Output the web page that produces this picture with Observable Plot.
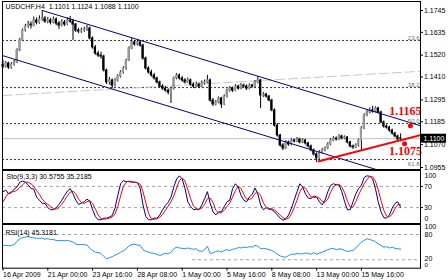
<!DOCTYPE html>
<html><head><meta charset="utf-8">
<script src="https://cdn.jsdelivr.net/npm/d3@7"></script>
<script src="https://cdn.jsdelivr.net/npm/@observablehq/plot@0.6"></script>
<style>
html,body{margin:0;padding:0;background:#fff;}
#chart{position:relative;width:448px;height:280px;overflow:hidden;background:#fff;}
#chart svg{position:absolute;left:0;}
</style></head><body><div id="chart"></div>
<script>
// ---- price data (H4 bars, index 0 = 16 Apr 2009 08:00) ----
const opens = [
1.1470,1.1463,1.1478,1.1458,1.1473,1.1483,1.1544,1.1594,1.1644,1.1664,
1.1674,1.1669,1.1694,1.1684,1.1699,1.1704,1.1689,1.1694,1.1684,1.1699,
1.1679,1.1669,1.1684,1.1674,1.1694,1.1689,1.1674,1.1644,1.1639,1.1644,
1.1649,1.1654,1.1604,1.1559,1.1528,1.1518,1.1513,1.1443,1.1383,1.1393,
1.1367,1.1393,1.1413,1.1433,1.1453,1.1493,1.1554,1.1584,1.1574,1.1584,
1.1569,1.1503,1.1453,1.1433,1.1418,1.1403,1.1383,1.1362,1.1352,1.1342,
1.1332,1.1352,1.1403,1.1418,1.1403,1.1393,1.1383,1.1393,1.1372,1.1362,
1.1372,1.1362,1.1378,1.1383,1.1393,1.1292,1.1272,1.1282,1.1302,1.1272,
1.1312,1.1342,1.1352,1.1342,1.1362,1.1352,1.1367,1.1362,1.1352,1.1367,
1.1362,1.1383,1.1393,1.1317,1.1322,1.1312,1.1292,1.1242,1.1166,1.1116,
1.1066,1.1051,1.1081,1.1071,1.1091,1.1086,1.1096,1.1081,1.1091,1.1076,
1.1061,1.1041,1.1021,1.1001,1.1031,1.1041,1.1051,1.1071,1.1091,1.1101,
1.1096,1.1111,1.1101,1.1106,1.1081,1.1061,1.1056,1.1066,1.1091,1.1151,
1.1217,1.1232,1.1242,1.1237,1.1252,1.1232,1.1181,1.1161,1.1156,1.1141,
1.1126,1.1111,1.1101];
const highs = [
1.1492,1.1488,1.1485,1.1482,1.1495,1.1552,1.1605,1.1652,1.1675,1.1690,
1.1688,1.1712,1.1708,1.1718,1.1745,1.1715,1.1710,1.1705,1.1712,1.1708,
1.1690,1.1698,1.1695,1.1708,1.1715,1.1700,1.1680,1.1655,1.1656,1.1660,
1.1669,1.1662,1.1612,1.1568,1.1540,1.1535,1.1520,1.1450,1.1408,1.1400,
1.1402,1.1422,1.1442,1.1462,1.1500,1.1562,1.1604,1.1594,1.1595,1.1592,
1.1575,1.1510,1.1462,1.1445,1.1428,1.1410,1.1390,1.1372,1.1362,1.1350,
1.1360,1.1410,1.1428,1.1425,1.1412,1.1402,1.1405,1.1400,1.1382,1.1385,
1.1380,1.1390,1.1395,1.1418,1.1400,1.1302,1.1292,1.1310,1.1308,1.1320,
1.1350,1.1362,1.1360,1.1372,1.1370,1.1378,1.1375,1.1370,1.1376,1.1374,
1.1392,1.1413,1.1398,1.1332,1.1328,1.1318,1.1298,1.1250,1.1175,1.1122,
1.1075,1.1090,1.1088,1.1100,1.1098,1.1106,1.1102,1.1100,1.1096,1.1082,
1.1068,1.1048,1.1028,1.1040,1.1050,1.1058,1.1080,1.1100,1.1110,1.1108,
1.1120,1.1118,1.1114,1.1110,1.1088,1.1068,1.1074,1.1098,1.1160,1.1225,
1.1245,1.1255,1.1262,1.1260,1.1258,1.1238,1.1190,1.1170,1.1162,1.1148,
1.1132,1.1118,1.1124];
const lows = [
1.1452,1.1455,1.1448,1.1450,1.1465,1.1478,1.1538,1.1588,1.1636,1.1655,
1.1652,1.1662,1.1672,1.1676,1.1690,1.1680,1.1678,1.1672,1.1678,1.1668,
1.1650,1.1662,1.1664,1.1668,1.1680,1.1594,1.1634,1.1628,1.1630,1.1635,
1.1640,1.1596,1.1550,1.1520,1.1508,1.1500,1.1435,1.1372,1.1370,1.1352,
1.1360,1.1385,1.1405,1.1425,1.1445,1.1488,1.1548,1.1565,1.1566,1.1560,
1.1495,1.1445,1.1425,1.1410,1.1395,1.1375,1.1355,1.1343,1.1335,1.1320,
1.1277,1.1345,1.1396,1.1395,1.1384,1.1375,1.1378,1.1364,1.1352,1.1355,
1.1352,1.1356,1.1370,1.1376,1.1284,1.1262,1.1265,1.1275,1.1252,1.1266,
1.1305,1.1334,1.1332,1.1336,1.1344,1.1346,1.1355,1.1342,1.1346,1.1354,
1.1356,1.1376,1.1252,1.1308,1.1304,1.1285,1.1235,1.1158,1.1108,1.1058,
1.1040,1.1045,1.1062,1.1064,1.1078,1.1080,1.1074,1.1075,1.1068,1.1054,
1.1034,1.1012,1.0980,1.0995,1.1024,1.1034,1.1045,1.1064,1.1085,1.1088,
1.1090,1.1094,1.1095,1.1074,1.1054,1.1046,1.1050,1.1058,1.1041,1.1145,
1.1210,1.1224,1.1228,1.1230,1.1225,1.1175,1.1152,1.1148,1.1133,1.1118,
1.1104,1.1090,1.1088];
const closes = [
1.1463,1.1478,1.1458,1.1473,1.1483,1.1544,1.1594,1.1644,1.1664,1.1674,
1.1669,1.1694,1.1684,1.1699,1.1704,1.1689,1.1694,1.1684,1.1699,1.1679,
1.1669,1.1684,1.1674,1.1694,1.1689,1.1674,1.1644,1.1639,1.1644,1.1649,
1.1654,1.1604,1.1559,1.1528,1.1518,1.1513,1.1443,1.1383,1.1393,1.1367,
1.1393,1.1413,1.1433,1.1453,1.1493,1.1554,1.1584,1.1574,1.1584,1.1569,
1.1503,1.1453,1.1433,1.1418,1.1403,1.1383,1.1362,1.1352,1.1342,1.1332,
1.1352,1.1403,1.1418,1.1403,1.1393,1.1383,1.1393,1.1372,1.1362,1.1372,
1.1362,1.1378,1.1383,1.1393,1.1292,1.1272,1.1282,1.1302,1.1272,1.1312,
1.1342,1.1352,1.1342,1.1362,1.1352,1.1367,1.1362,1.1352,1.1367,1.1362,
1.1383,1.1393,1.1317,1.1322,1.1312,1.1292,1.1242,1.1166,1.1116,1.1066,
1.1051,1.1081,1.1071,1.1091,1.1086,1.1096,1.1081,1.1091,1.1076,1.1061,
1.1041,1.1021,1.1001,1.1031,1.1041,1.1051,1.1071,1.1091,1.1101,1.1096,
1.1111,1.1101,1.1106,1.1081,1.1061,1.1056,1.1066,1.1091,1.1151,1.1217,
1.1232,1.1242,1.1237,1.1252,1.1232,1.1181,1.1161,1.1156,1.1141,1.1126,
1.1111,1.1096,1.1100];

// ---- indicators ----
const stochMain = [
60,63,56,58,65,69,78,80,78,73, 66,65,50,44,38,38,30,26,26,30,
36,44,53,61,66,56,44,36,38,41, 46,42,26,13,7,7,10,10,12,15,
29,53,75,81,79,79,78,78,77,66, 35,13,7,7,10,10,16,26,34,40,
50,69,84,90,84,66,41,32,26,27, 26,35,47,60,38,22,16,22,22,32,
41,44,66,75,69,53,44,41,50,55, 67,56,35,26,30,27,26,22,16,10,
6,9,16,29,44,60,75,69,56,48, 47,52,50,41,35,44,60,72,75,73,
73,60,41,26,26,41,56,66,72,87, 90,89,84,66,41,22,11,10,16,29,
38,41,30.5755];
const stochSignal = [
41,50,57,60,60,63,68,73,78,78, 75,70,62,55,46,40,36,32,28,27,
30,36,44,52,59,61,56,46,40,38, 41,43,38,27,16,9,8,9,10,12,
18,32,52,70,78,80,79,78,77,74, 60,39,19,9,8,9,12,17,25,33,
41,52,67,81,86,80,64,47,33,28, 27,29,36,47,48,40,25,20,20,25,
32,39,50,62,70,66,55,46,45,48, 57,59,53,39,30,28,28,25,21,16,
11,8,10,18,30,44,60,68,67,58, 50,49,50,48,42,40,46,59,69,73,
74,69,58,42,31,31,41,54,65,75, 83,89,88,80,64,43,25,14,12,18,
28,36,35.2185];
const rsi = [
54,54,53,54,56,64,70,73,74,75, 73,72,71,71,71,69,70,68,68,66,
65,66,65,66,64,62,57,56,56,56, 55,47,42,38,37,35,28,22,25,27,
31,34,38,41,46,53,56,57,55,54, 44,40,38,36,35,33,30,33,35,34,
38,46,50,48,47,46,48,46,45,46, 41,40,44,52,35,36,40,41,38,42,
44,42,45,46,49,48,50,49,51,50, 54,52,46,47,46,44,42,38,33,29,
27,26,30,33,33,35,34,34,36,35, 33,37,33,36,38,41,44,46,47,44,
46,45,42,40,41,42,48,55,62,66, 70,68,66,63,58,54,50,51,48,50,
47,46,45.3181];

// ---- axes / levels / annotations ----
const priceTicks = [1.1745, 1.1635, 1.1520, 1.1410, 1.1295, 1.1185, 1.1070, 1.0955];
const timeTickBars = [0, 16, 32, 48, 64, 80, 96, 112, 128];
const timeTickLabels = ["16 Apr 2009","21 Apr 00:00","23 Apr 16:00","28 Apr 08:00","1 May 00:00","5 May 16:00","8 May 08:00","13 May 00:00","15 May 16:00"];
const fibLevels = [1.1594, 1.1357, 1.1176, 1.0995];
const fibLabels = ["23.6", "38.2", "50.0", "61.8"];
const currentPrice = 1.1100;
const lineNames = ["channelTop", "channelBottom", "grayTrend", "support"];
const lineX1 = [14, -0.2, -0.2, 112.5];
const lineY1 = [1.1745, 1.1518, 1.1317, 1.0985];
const lineX2 = [149.1, 149.1, 149.1, 149.1];
const lineY2 = [1.1165, 1.0877, 1.1439, 1.1118];
const levelNames = ["1.1165", "1.1075"];
const levelBars = [145.5, 143.4];
const levelPrices = [1.1165, 1.1075];
const stochLevels = [70, 30];
const rsiLevels = [80, 20];
const rsiLevelStart = [-0.2, 67.7];
const title = "USDCHF,H4  1.1101 1.1124 1.1088 1.1100";
const stochTitle = "Sto(9,3,3) 30.5755 35.2185";
const rsiTitle = "RSI(14) 45.3181";

// ---- build ----
const FONT = "'Liberation Sans', Arial, sans-serif";
const xDomain = [-0.18, 149.1];
const barPx = 418 / (xDomain[1] - xDomain[0]);
const bars = closes.map((c, i) => ({i, o: opens[i], h: highs[i], l: lows[i], c}));
const bulls = bars.filter(d => d.c >= d.o);
const bears = bars.filter(d => d.c < d.o);
const lines = lineNames.map((n, k) => ({n, x1: lineX1[k], y1: lineY1[k], x2: lineX2[k], y2: lineY2[k]}));
const lineColor = {channelTop: "#000080", channelBottom: "#000080", grayTrend: "#c8c8c8", support: "#ff0000"};
const lineWidth = {channelTop: 1, channelBottom: 1, grayTrend: 1, support: 2};
const levels = levelNames.map((n, k) => ({n, i: levelBars[k], p: levelPrices[k]}));
const baseStyle = {fontFamily: FONT, fontSize: "7px", background: "transparent", overflow: "visible", color: "black"};

const main = Plot.plot({
  width: 448, height: 170, marginTop: 1, marginBottom: 1, marginLeft: 2, marginRight: 28,
  x: {domain: xDomain, axis: null, label: null},
  y: {domain: [1.0945, 1.1790], axis: null, label: null},
  style: baseStyle,
  marks: [
    Plot.ruleY(fibLevels, {stroke: "#333", strokeDasharray: "2,2"}),
    Plot.ruleY([currentPrice], {stroke: "#c0c0c0"}),
    Plot.link(lines.filter(d => d.n === "grayTrend"), {x1: "x1", y1: "y1", x2: "x2", y2: "y2", stroke: "#c8c8c8", strokeDasharray: "10,3", clip: true}),
    Plot.ruleX(bars, {x: "i", y1: "l", y2: "h", stroke: "black", strokeWidth: 1}),
    Plot.rect(bulls, {x1: d => d.i - 0.4, x2: d => d.i + 0.4, y1: "o", y2: "c", fill: "#9a9a9a", insetTop: -0.5, insetBottom: -0.5}),
    Plot.rect(bears, {x1: d => d.i - 0.4, x2: d => d.i + 0.4, y1: "o", y2: "c", fill: "black", insetTop: -0.5, insetBottom: -0.5}),
    Plot.link(lines.filter(d => d.n !== "grayTrend"), {x1: "x1", y1: "y1", x2: "x2", y2: "y2",
      stroke: d => lineColor[d.n], strokeWidth: d => lineWidth[d.n], clip: true}),
    Plot.text(fibLevels.slice(0, 3), {y: d => d, text: (d, k) => fibLabels[k], frameAnchor: "right", textAnchor: "end", dx: -1, dy: -2.5, fill: "#707070", fontSize: 6}),
    Plot.text(fibLevels.slice(3), {y: d => d, text: () => fibLabels[3], frameAnchor: "right", textAnchor: "end", dx: -1, dy: 5, fill: "#707070", fontSize: 6}),
    Plot.dot(levels, {x: "i", y: "p", r: 2.5, fill: "#ff0000"}),
    Plot.text(levels.filter(d => d.n === "1.1165"), {x: "i", y: "p", text: "n", dx: -5, dy: -14.5, fill: "#ff0000", fontSize: 12, fontWeight: "bold", fontFamily: "'Liberation Serif', serif"}),
    Plot.text(levels.filter(d => d.n === "1.1075"), {x: "i", y: "p", text: "n", dx: 1, dy: 8, fill: "#ff0000", fontSize: 12, fontWeight: "bold", fontFamily: "'Liberation Serif', serif"}),
    Plot.frame({stroke: "black"}),
    Plot.axisY({anchor: "right", label: null, ticks: priceTicks, tickFormat: d => d.toFixed(4), tickSize: 2, tickPadding: 1.5, fontSize: 7}),
    Plot.rect([currentPrice], {x1: () => xDomain[1], x2: () => xDomain[1] + 26 / barPx, y1: d => d - 0.00225, y2: d => d + 0.00225, fill: "black"}),
    Plot.text([currentPrice], {x: () => xDomain[1], y: d => d, text: d => d.toFixed(4), dx: 3, textAnchor: "start", fill: "white", fontSize: 7}),
    Plot.text([title], {frameAnchor: "top-left", dx: 3, dy: 3, lineAnchor: "top", fill: "black", fontSize: 7})
  ]
});
main.style.top = "0px";

const stoch = Plot.plot({
  width: 448, height: 53, marginTop: 0, marginBottom: 0, marginLeft: 2, marginRight: 28,
  x: {domain: xDomain, axis: null, label: null},
  y: {domain: [0, 100], axis: null, label: null},
  style: baseStyle,
  marks: [
    Plot.ruleY(stochLevels, {stroke: "#a0a0a0", strokeDasharray: "3,3"}),
    Plot.line(stochMain, {x: (d, i) => i, y: d => d, stroke: "#000080", strokeWidth: 1}),
    Plot.line(stochSignal, {x: (d, i) => i, y: d => d, stroke: "#ff0000", strokeWidth: 1}),
    Plot.frame({stroke: "black"}),
    Plot.text([stochTitle], {frameAnchor: "top-left", dx: 4, dy: 4, lineAnchor: "top", fill: "black", fontSize: 7}),
    Plot.axisY({anchor: "right", label: null, ticks: stochLevels, tickSize: 2, tickPadding: 1.5, fontSize: 7}),
    Plot.text([100], {y: d => d, frameAnchor: "right", dx: 4, dy: 5, textAnchor: "start", fontSize: 7}),
    Plot.text([0], {y: d => d, frameAnchor: "right", dx: 4, dy: -5, textAnchor: "start", fontSize: 7})
  ]
});
stoch.style.top = "170px";

const rsiPlot = Plot.plot({
  width: 448, height: 56, marginTop: 0, marginBottom: 12.3, marginLeft: 2, marginRight: 28,
  x: {domain: xDomain, axis: null, label: null},
  y: {domain: [0, 103.7], axis: null, label: null},
  style: baseStyle,
  marks: [
    Plot.ruleY(rsiLevels.map((v, k) => ({v, s: rsiLevelStart[k]})), {y: "v", x1: "s", x2: () => xDomain[1], stroke: "#a0a0a0", strokeDasharray: "3,3"}),
    Plot.line(rsi, {x: (d, i) => i, y: d => d, stroke: "#1e90ff", strokeWidth: 1}),
    Plot.frame({stroke: "black"}),
    Plot.text([rsiTitle], {frameAnchor: "top-left", dx: 3, dy: 6, lineAnchor: "top", fill: "black", fontSize: 7}),
    Plot.text([100], {y: d => d, frameAnchor: "right", dx: 4, dy: 0.5, textAnchor: "start", fontSize: 7}),
    Plot.text([80], {y: d => d, frameAnchor: "right", dx: 4, dy: 0.5, textAnchor: "start", fontSize: 7}),
    Plot.text([20], {y: d => d, frameAnchor: "right", dx: 4, dy: -1.5, textAnchor: "start", fontSize: 7}),
    Plot.text([0], {y: d => d, frameAnchor: "right", dx: 4, dy: -3.5, textAnchor: "start", fontSize: 6}),
    Plot.axisX({anchor: "bottom", label: null, ticks: timeTickBars, tickFormat: d => timeTickLabels[timeTickBars.indexOf(d)],
      tickSize: 3, tickPadding: 0.5, textAnchor: "start", fontSize: 7})
  ]
});
rsiPlot.style.top = "224px";

const root = document.getElementById("chart");
root.append(main, stoch, rsiPlot);
</script>
</body></html>
